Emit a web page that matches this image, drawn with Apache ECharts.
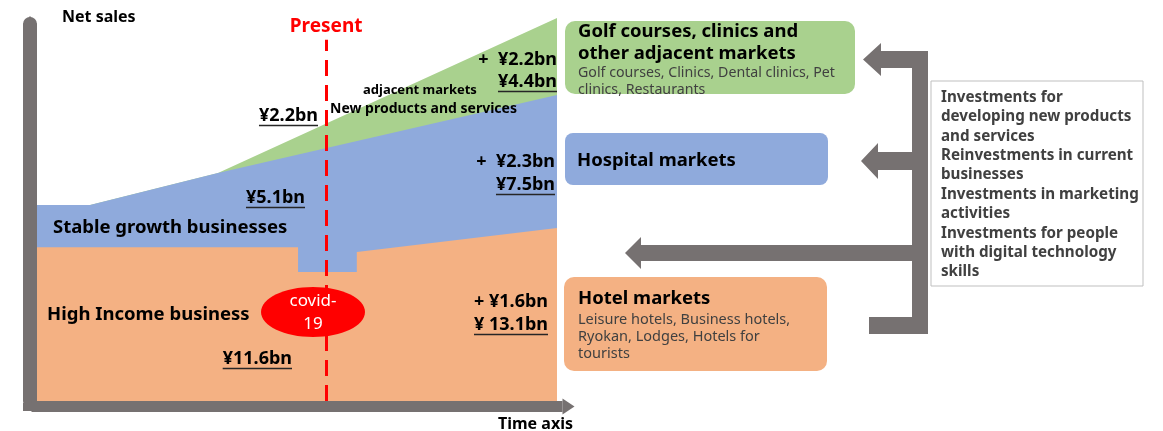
<!DOCTYPE html>
<html>
<head>
<meta charset="utf-8">
<script src="https://cdn.jsdelivr.net/npm/echarts@6/dist/echarts.min.js"></script>
<style>
  html, body { margin: 0; padding: 0; background: #fff; }
  #main { width: 1163px; height: 431px; }
</style>
</head>
<body>
<div id="main"></div>
<script>
// time runs 0..100 along x, net sales 0..100 up y (conceptual scale)
const adjacentTime = [0, 10.2, 34.8, 100];
const adjacentSales = [52.0, 52.0, 60.5, 101.6];
const stableTime = [0, 10.2, 34.8, 100];
const stableSales = [52.0, 52.0, 60.5, 81.2];
const hotelTime = [0, 50.2, 50.2, 61.5, 61.5, 100];
const hotelSales = [40.8, 40.8, 34.2, 34.2, 39.5, 45.9];
const presentTime = 55.6;
const presentTop = 95.8;

const GREEN = '#a9d18e', BLUE = '#8faadc', ORANGE = '#f4b183', GRAY = '#767171', RED = '#ff0000';
const FONT = '"Noto Sans", "Noto Sans CJK JP", sans-serif';

function pairs(xs, ys) {
  return xs.map(function (x, i) { return [x, ys[i]]; });
}

const mctx = document.createElement('canvas').getContext('2d');
function textWidth(s, font) {
  mctx.font = font;
  return mctx.measureText(s).width;
}

// Noto Sans sits a little high with middle alignment, nudge down
const DY = 1.5;

function label(s, x, y, size, o) {
  o = o || {};
  const font = (o.weight || 'bold') + ' ' + size + 'px ' + FONT;
  return {
    type: 'text', z: 100, x: x, y: y + DY,
    style: {
      text: s, font: font, fill: o.color || '#000',
      align: o.align || 'left', verticalAlign: 'middle',
      textAlign: o.align || 'left', textVerticalAlign: 'middle'
    }
  };
}

function underlined(s, x, y, size, align) {
  const w = textWidth(s, 'bold ' + size + 'px ' + FONT);
  const left = align === 'right' ? x - w : x;
  const uy = y + DY + Math.round(size * 0.55);
  return [
    label(s, x, y, size, { align: align }),
    { type: 'line', z: 100, shape: { x1: left, y1: uy, x2: left + w, y2: uy }, style: { stroke: '#262626', lineWidth: 1.5 } }
  ];
}

function arrowLeft(tipX, baseX, endX, cy, barH, headH) {
  return {
    type: 'polygon', z: 50,
    shape: { points: [
      [tipX, cy], [baseX, cy - headH / 2], [baseX, cy - barH / 2], [endX, cy - barH / 2],
      [endX, cy + barH / 2], [baseX, cy + barH / 2], [baseX, cy + headH / 2]
    ] },
    style: { fill: GRAY }
  };
}

const chart = echarts.init(document.getElementById('main'), null, { renderer: 'canvas' });

let graphics = [];
graphics.push(label('Net sales', 62, 16, 16));
graphics.push(label('Time axis', 498, 423, 16));
graphics.push(label('adjacent markets', 363, 89, 13));
graphics.push(label('New products and services', 330, 108, 14));
graphics = graphics.concat(underlined('¥2.2bn', 318, 114, 18, 'right'));
graphics.push(label('+  ¥2.2bn', 557, 58, 18, { align: 'right' }));
graphics = graphics.concat(underlined('¥4.4bn', 557, 80, 18, 'right'));
graphics.push(label('+  ¥2.3bn', 555, 160, 18, { align: 'right' }));
graphics = graphics.concat(underlined('¥7.5bn', 555, 183, 18, 'right'));
graphics = graphics.concat(underlined('¥5.1bn', 305, 196, 18, 'right'));
graphics.push(label('Stable growth businesses', 53, 226, 18.5));
graphics.push(label('High Income business', 47, 313, 18.5));
graphics.push(label('+ ¥1.6bn', 548, 300, 18, { align: 'right' }));
graphics = graphics.concat(underlined('¥ 13.1bn', 548, 323, 18, 'right'));
graphics = graphics.concat(underlined('¥11.6bn', 292, 357, 18, 'right'));

// covid-19 marker
graphics.push({ type: 'ellipse', z: 90, shape: { cx: 313, cy: 312, rx: 52, ry: 25 }, style: { fill: RED } });
graphics.push(label('covid-', 313, 300, 17, { color: '#fff', align: 'center', weight: 'normal' }));
graphics.push(label('19', 313, 323, 17, { color: '#fff', align: 'center', weight: 'normal' }));

// market boxes
graphics.push({ type: 'rect', z: 40, shape: { x: 565, y: 21, width: 290, height: 73, r: 10 }, style: { fill: GREEN } });
graphics.push(label('Golf courses, clinics and', 578, 30, 18.5));
graphics.push(label('other adjacent markets', 578, 52, 18.5));
graphics.push(label('Golf courses, Clinics, Dental clinics, Pet', 578, 71, 14.2, { weight: 'normal', color: '#404040' }));
graphics.push(label('clinics, Restaurants', 578, 88, 14.2, { weight: 'normal', color: '#404040' }));

graphics.push({ type: 'rect', z: 40, shape: { x: 565, y: 133, width: 263, height: 52, r: 8 }, style: { fill: BLUE } });
graphics.push(label('Hospital markets', 577, 159, 18.5));

graphics.push({ type: 'rect', z: 40, shape: { x: 564, y: 277, width: 263, height: 94, r: 10 }, style: { fill: ORANGE } });
graphics.push(label('Hotel markets', 578, 297, 18.5));
graphics.push(label('Leisure hotels, Business hotels,', 578, 318, 14.5, { weight: 'normal', color: '#404040' }));
graphics.push(label('Ryokan, Lodges, Hotels for', 578, 335, 14.5, { weight: 'normal', color: '#404040' }));
graphics.push(label('tourists', 578, 352, 14.5, { weight: 'normal', color: '#404040' }));

// investment arrows
graphics.push({ type: 'rect', z: 50, shape: { x: 912, y: 51, width: 16, height: 283 }, style: { fill: GRAY } });
graphics.push(arrowLeft(863, 881, 928, 59.5, 17, 33));
graphics.push(arrowLeft(861, 878, 928, 161, 18, 36));
graphics.push(arrowLeft(625, 641, 928, 253, 16, 32));
graphics.push({ type: 'rect', z: 50, shape: { x: 869, y: 317, width: 59, height: 17 }, style: { fill: GRAY } });

// investments text box
graphics.push({ type: 'rect', z: 40, shape: { x: 931, y: 81, width: 212, height: 205 }, style: { fill: '#fff', stroke: '#bfbfbf', lineWidth: 1 } });
const investLines = ['Investments for', 'developing new products', 'and services', 'Reinvestments in current',
  'businesses', 'Investments in marketing', 'activities', 'Investments for people',
  'with digital technology', 'skills'];
investLines.forEach(function (s, i) {
  graphics.push(label(s, 941, 96 + i * 19.4, 15.2, { color: '#404040' }));
});

const option = {
  animation: false,
  grid: { left: 37, top: 24, width: 520, height: 377 },
  xAxis: {
    type: 'value', min: 0, max: 100, offset: 5.5,
    axisLine: {
      show: true, onZero: false,
      symbol: ['none', 'triangle'], symbolSize: [16, 12], symbolOffset: [0, 11.5],
      lineStyle: { color: GRAY, width: 11, cap: 'square' }
    },
    axisTick: { show: false }, axisLabel: { show: false }, splitLine: { show: false }
  },
  yAxis: {
    type: 'value', min: 0, max: 100, offset: 7,
    axisLine: {
      show: true, onZero: false,
      symbol: ['rect', 'triangle'], symbolSize: [14, 8], symbolOffset: [-6, 4],
      lineStyle: { color: GRAY, width: 14 }
    },
    axisTick: { show: false }, axisLabel: { show: false }, splitLine: { show: false }
  },
  series: [
    {
      name: 'Adjacent markets', type: 'line', clip: false, symbol: 'none',
      lineStyle: { width: 0 }, areaStyle: { color: GREEN, opacity: 1 },
      data: pairs(adjacentTime, adjacentSales)
    },
    {
      name: 'Stable growth businesses', type: 'line', clip: false, symbol: 'none',
      lineStyle: { width: 0 }, areaStyle: { color: BLUE, opacity: 1 },
      data: pairs(stableTime, stableSales)
    },
    {
      name: 'High Income business', type: 'line', clip: false, symbol: 'none',
      lineStyle: { width: 0 }, areaStyle: { color: ORANGE, opacity: 1 },
      data: pairs(hotelTime, hotelSales),
      markLine: {
        silent: true, symbol: 'none',
        lineStyle: { color: RED, width: 3, type: [16, 9] },
        label: {
          show: true, position: 'end', formatter: 'Present', distance: 4,
          color: RED, fontSize: 19, fontWeight: 'bold', fontFamily: FONT
        },
        data: [[{ coord: [presentTime, 0] }, { coord: [presentTime, presentTop] }]]
      }
    }
  ],
  graphic: graphics
};

chart.setOption(option);
</script>
</body>
</html>
